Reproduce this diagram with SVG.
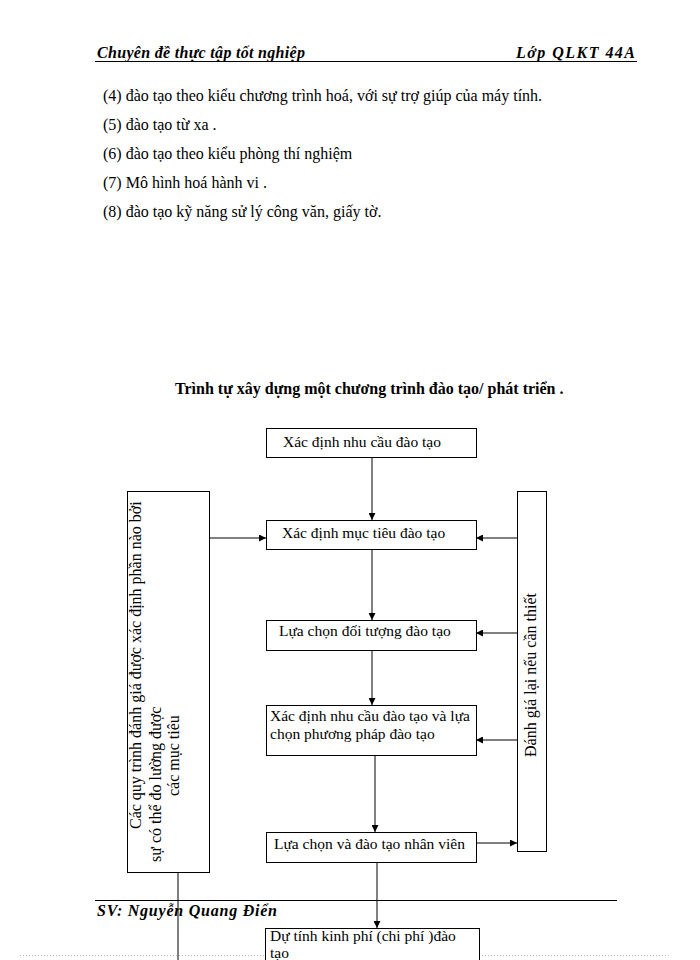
<svg xmlns="http://www.w3.org/2000/svg" width="700" height="960" viewBox="0 0 700 960">
<defs>
<style>
.t{font-family:"Liberation Serif","Times New Roman",serif;font-size:16px;fill:#000}
.bx{font-size:15.5px}
.b{font-weight:bold}
.h{font-family:"Liberation Serif",serif;font-style:italic;font-weight:bold;font-size:16px;fill:#000}
.box{fill:#fff;stroke:#000;stroke-width:1}
.ln{stroke:#000;stroke-width:1;fill:none}
</style>
<marker id="ah" viewBox="0 0 10 10" refX="10" refY="5" markerWidth="7" markerHeight="7" orient="auto" markerUnits="userSpaceOnUse">
<path d="M0,0 L10,5 L0,10 z" fill="#000"/>
</marker>
</defs>
<rect width="700" height="960" fill="#fff"/>
<g id="header">
<text class="h" x="97" y="58" textLength="208" lengthAdjust="spacing">Chuyên đề thực tập tốt nghiệp</text>
<text class="h" x="516" y="58" textLength="119" lengthAdjust="spacing">Lớp QLKT 44A</text>
<line x1="95" y1="61.5" x2="637" y2="61.5" stroke="#000" stroke-width="1"/>
</g>
<g id="list">
<text class="t" x="103" y="101">(4)  đào tạo theo kiểu  chương trình hoá, với sự trợ giúp  của máy  tính.</text>
<text class="t" x="103" y="130">(5)  đào tạo từ xa  .</text>
<text class="t" x="103" y="159">(6)  đào tạo theo kiểu  phòng thí nghiệm</text>
<text class="t" x="103" y="188">(7) Mô hình hoá hành  vi  .</text>
<text class="t" x="103" y="217">(8)  đào tạo kỹ năng sử lý  công văn, giấy  tờ.</text>
</g>
<text id="title" class="t b" x="175" y="394">Trình tự xây dựng một chương trình  đào tạo/ phát triển .</text>
<line x1="20" y1="955.5" x2="670" y2="955.5" stroke="#bbb" stroke-width="1" stroke-dasharray="1,2"/>
<g id="connectors">
<line class="ln" x1="372" y1="457" x2="372" y2="520" marker-end="url(#ah)"/>
<line class="ln" x1="372" y1="549" x2="372" y2="620" marker-end="url(#ah)"/>
<line class="ln" x1="372" y1="650" x2="372" y2="705" marker-end="url(#ah)"/>
<line class="ln" x1="375" y1="755" x2="375" y2="832" marker-end="url(#ah)"/>
<line class="ln" x1="377" y1="862" x2="377" y2="928" marker-end="url(#ah)"/>
<line class="ln" x1="209" y1="538" x2="266" y2="538" marker-end="url(#ah)"/>
<line class="ln" x1="517" y1="538" x2="476" y2="538" marker-end="url(#ah)"/>
<line class="ln" x1="517" y1="633" x2="476" y2="633" marker-end="url(#ah)"/>
<line class="ln" x1="517" y1="740" x2="476" y2="740" marker-end="url(#ah)"/>
<line class="ln" x1="476" y1="843" x2="517" y2="843" marker-end="url(#ah)"/>
<line class="ln" x1="178" y1="872" x2="178" y2="960"/>
</g>
<g id="n1">
<rect class="box" x="266.5" y="428.5" width="210" height="29"/>
<text class="t bx" x="283" y="447">Xác định nhu cầu đào tạo</text>
</g>
<g id="n2">
<rect class="box" x="266.5" y="520.5" width="210" height="29"/>
<text class="t bx" x="282" y="538">Xác định mục tiêu đào tạo</text>
</g>
<g id="n3">
<rect class="box" x="266.5" y="620.5" width="210" height="30"/>
<text class="t bx" x="279" y="636">Lựa chọn đối tượng đào tạo</text>
</g>
<g id="n4">
<rect class="box" x="266.5" y="705.5" width="210" height="50"/>
<text class="t bx" x="270" y="721"> Xác định nhu cầu đào tạo và lựa</text>
<text class="t bx" x="270" y="739">chọn phương pháp đào tạo</text>
</g>
<g id="n5">
<rect class="box" x="266.5" y="832.5" width="210" height="30"/>
<text class="t bx" x="274" y="849">Lựa chọn và đào tạo nhân viên</text>
</g>
<g id="n6">
<rect class="box" x="265.5" y="928.5" width="214" height="40"/>
<text class="t bx" x="270" y="940.5"> Dự tính kinh phí (chi phí )đào</text>
<text class="t bx" x="270" y="957.5">tạo</text>
</g>
<g id="left">
<rect class="box" x="127.5" y="491.5" width="82" height="381"/>
<text class="t" transform="translate(141,829) rotate(-90)">Các quy trình đánh giá được xác định phần nào bởi</text>
<text class="t" transform="translate(161,862) rotate(-90)">sự có thể đo lường được</text>
<text class="t" transform="translate(179,796) rotate(-90)">các mục tiêu</text>
</g>
<g id="right">
<rect class="box" x="517.5" y="491.5" width="29" height="360"/>
<text class="t" transform="translate(536,757) rotate(-90)">Đánh giá lại nếu cần thiết</text>
</g>
<g id="footer">
<line x1="95" y1="900.5" x2="617" y2="900.5" stroke="#000" stroke-width="1"/>
<text class="h" x="97" y="916" textLength="180" lengthAdjust="spacing">SV: Nguyễn Quang Điển</text>
</g>
</svg>
